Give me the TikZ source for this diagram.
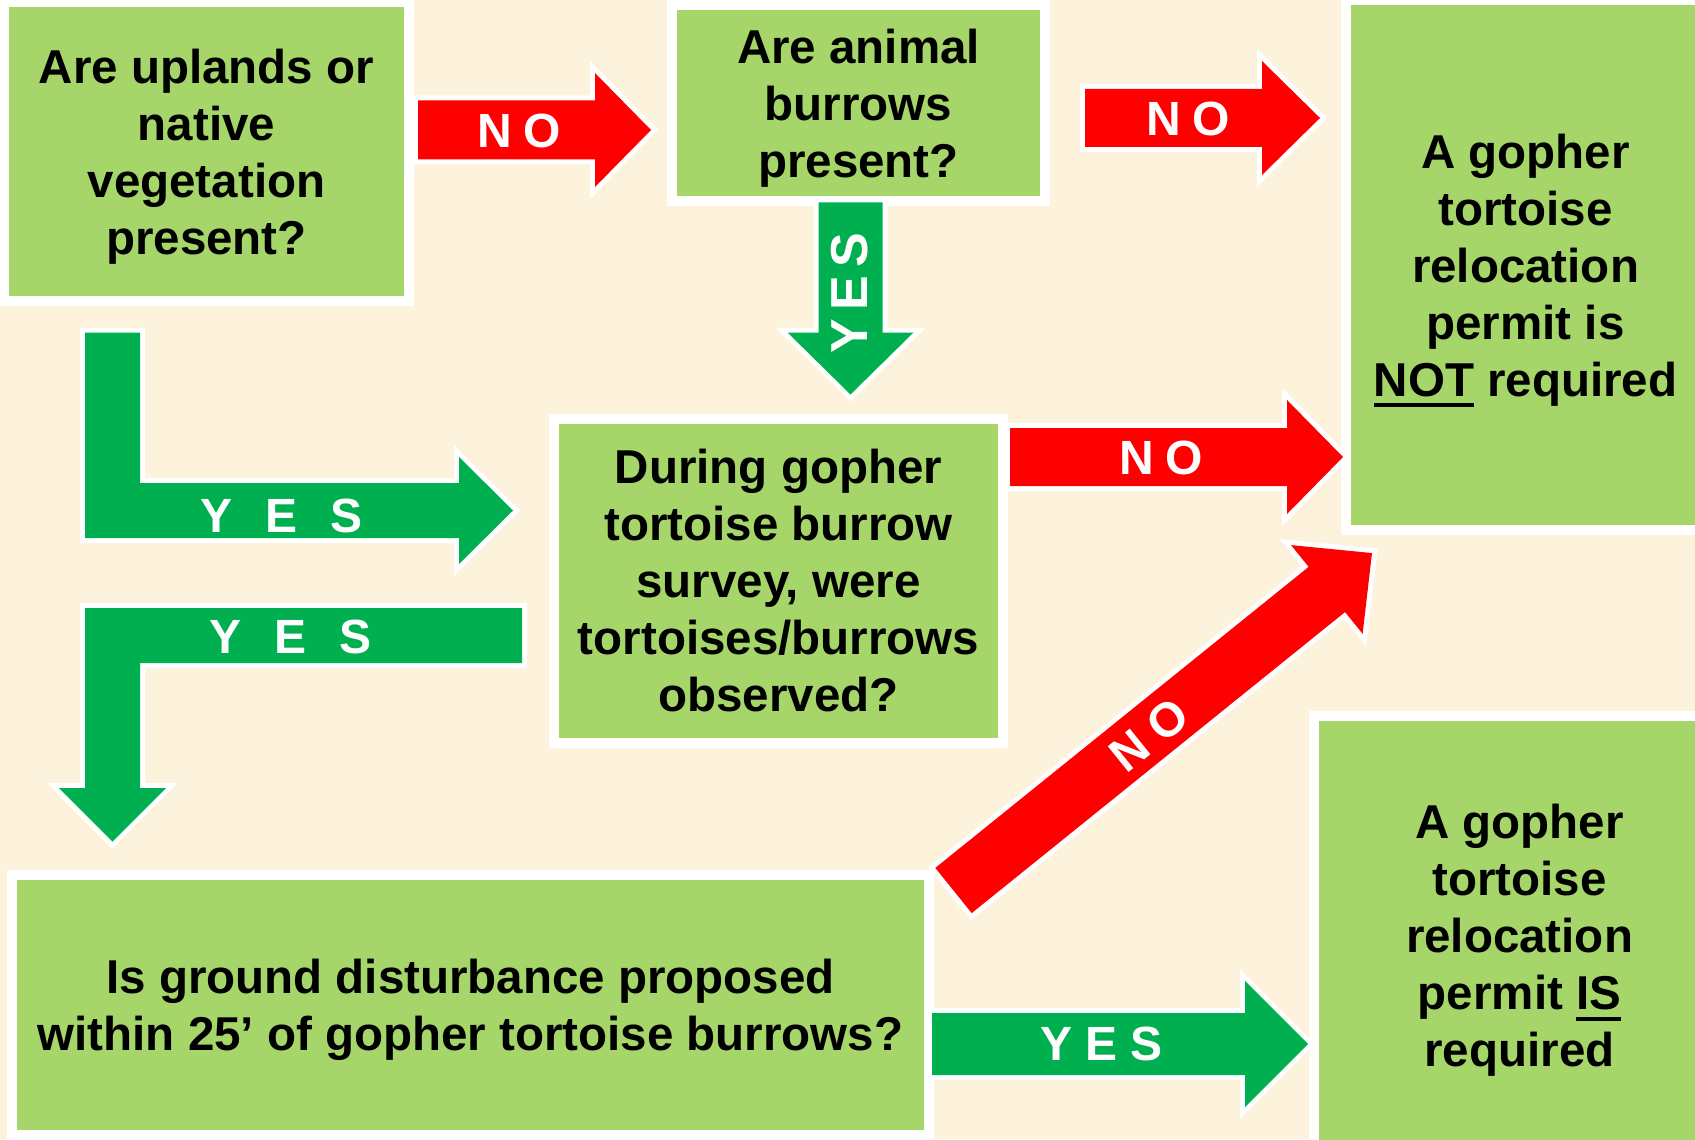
\documentclass[tikz,border=0pt]{standalone}
\usepackage{fontspec}
\setmainfont{Liberation Sans}
\definecolor{bgcream}{RGB}{253,242,219}
\definecolor{boxgreen}{RGB}{166,214,106}
\definecolor{arrgreen}{RGB}{0,176,80}
\definecolor{arrred}{RGB}{255,0,0}
\newcommand\ulx[1]{\setbox0\hbox{#1}\rlap{\rule[-5.5pt]{\wd0}{2pt}}\box0\relax}
\newcommand\nodp[1]{\raisebox{0pt}[\height][0pt]{#1}}
% #1 x, #2 y (tail middle), #3 angle, #4 length, #5 body half width, #6 head half width, #7 head length, #8 colour
\newcommand\blockarrow[8]{%
  \begin{scope}[shift={(#1,#2)},rotate=#3]
    \path[arrowshape,fill=#8] (0,-#5) -- ({#4-#7},-#5) -- ({#4-#7},-#6) -- (#4,0)
      -- ({#4-#7},#6) -- ({#4-#7},#5) -- (0,#5) -- cycle;
  \end{scope}}
\tikzset{
  box/.style={rectangle, fill=boxgreen, draw=white, line width=5pt, align=center,
    inner sep=0pt, font=\bfseries\fontsize{23.75}{28.5}\selectfont},
  arrowshape/.style={preaction={draw=white,line width=5pt,line join=miter}},
  lbl/.style={text=white, inner sep=0pt, font=\bfseries\fontsize{24}{28}\selectfont},
}
\begin{document}
\begin{tikzpicture}[x=0.5pt,y=-0.5pt]
\useasboundingbox (0,0) rectangle (1695,1139);
\clip (0,0) rectangle (1695,1139);
\fill[bgcream] (0,0) rectangle (1695,1139);

% boxes
\node[box, minimum width=202.5pt, minimum height=149.5pt] (qa) at (206.5,151.5)
  {Are uplands or\\native\\vegetation\\\nodp{present?}};
\node[box, minimum width=186.5pt, minimum height=98pt] (qb) at (858.5,103)
  {Are animal\\burrows\\\nodp{present?}};
\node[box, minimum width=179.5pt, minimum height=265pt] (notreq) at (1525.5,265)
  {A gopher\\tortoise\\relocation\\permit is\\\nodp{\ulx{NOT} required}};
\node[box, minimum width=224.5pt, minimum height=162pt] (qd) at (778.5,581)
  {During gopher\\tortoise burrow\\survey, were\\tortoises/burrows\\observed?};
\node[box, minimum width=458.5pt, minimum height=130pt] (qe) at (470.5,1005)
  {Is ground disturbance proposed\\\nodp{within 25’ of gopher tortoise burrows?}};
\node[box, minimum width=205.5pt, minimum height=219.5pt] (isreq) at (1519.5,935.5)
  {A gopher\\tortoise\\relocation\\permit \ulx{IS}\\\nodp{required}};

% straight block arrows
\blockarrow{418}{130}{0}{233}{29.5}{57}{56}{arrred}
\blockarrow{1085}{118}{0}{235}{29}{57}{58}{arrred}
\blockarrow{850.5}{202.5}{-90}{192}{32}{63}{62}{arrgreen}
\blockarrow{1010}{457}{0}{333}{29}{57}{56}{arrred}
\blockarrow{953.5}{890.5}{38.88}{537.6}{29}{57}{58}{arrred}
\blockarrow{932}{1044}{0}{376}{31}{63}{63}{arrgreen}

% L-shaped arrows
\path[arrowshape,fill=arrgreen] (85,332.5) -- (140,332.5) -- (140,483) -- (459,483)
  -- (459,457) -- (513,510.5) -- (459,564) -- (459,538) -- (85,538) -- cycle;
\path[arrowshape,fill=arrgreen] (85,608) -- (522,608) -- (522,663) -- (140,663)
  -- (140,788) -- (166,788) -- (112.5,841.5) -- (59,788) -- (85,788) -- cycle;

% labels
\node[lbl] (lno1) at (519,131) {N\hspace{6pt}O};
\node[lbl] (lno2) at (1188,119) {N\hspace{6pt}O};
\node[lbl, rotate=90, font=\bfseries\fontsize{26}{30}\selectfont] (lyes1) at (850,293) {Y\hspace{4pt}E\hspace{4pt}S};
\node[lbl] (lno3) at (1161,458) {N\hspace{6pt}O};
\node[lbl] (lyes2) at (281.5,515.5) {Y\hspace{16.5pt}E\hspace{16.5pt}S};
\node[lbl] (lyes3) at (290.5,637) {Y\hspace{16.5pt}E\hspace{16.5pt}S};
\node[lbl, rotate=38.88] (lno4) at (1149,735) {N\hspace{6pt}O};
\node[lbl] (lyes4) at (1102,1044) {Y\hspace{6.5pt}E\hspace{6.5pt}S};
\end{tikzpicture}
\end{document}
